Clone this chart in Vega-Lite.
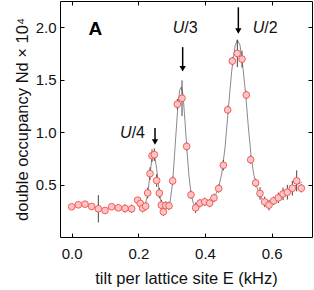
{
  "$schema": "https://vega.github.io/schema/vega-lite/v6.json",
  "autosize": "none",
  "width": 252,
  "height": 236,
  "padding": {"left": 60, "top": 1, "right": 2, "bottom": 53},
  "background": "white",
  "config": {
    "view": {"stroke": "black", "strokeWidth": 1},
    "font": "Liberation Sans",
    "axis": {
      "domain": false, "grid": false, "tickColor": "black", "tickSize": -4, "tickWidth": 1,
      "labelFont": "Liberation Sans", "labelFontSize": 15, "labelColor": "#111",
      "titleFont": "Liberation Sans", "titleFontSize": 16.5, "titleFontWeight": "normal", "titleColor": "#111"
    }
  },
  "datasets": {
    "pts": [
      {"x": 0.0, "y": 0.288, "lo": 0.268, "hi": 0.308},
      {"x": 0.02, "y": 0.307, "lo": 0.277, "hi": 0.337},
      {"x": 0.04, "y": 0.313, "lo": 0.293, "hi": 0.333},
      {"x": 0.06, "y": 0.291, "lo": 0.261, "hi": 0.321},
      {"x": 0.08, "y": 0.269, "lo": 0.139, "hi": 0.399},
      {"x": 0.10, "y": 0.253, "lo": 0.223, "hi": 0.283},
      {"x": 0.12, "y": 0.288, "lo": 0.258, "hi": 0.318},
      {"x": 0.14, "y": 0.278, "lo": 0.248, "hi": 0.308},
      {"x": 0.16, "y": 0.272, "lo": 0.232, "hi": 0.312},
      {"x": 0.18, "y": 0.269, "lo": 0.229, "hi": 0.309},
      {"x": 0.198, "y": 0.351, "lo": 0.321, "hi": 0.381},
      {"x": 0.206, "y": 0.32, "lo": 0.29, "hi": 0.35},
      {"x": 0.213, "y": 0.275, "lo": 0.235, "hi": 0.315},
      {"x": 0.222, "y": 0.294, "lo": 0.254, "hi": 0.334},
      {"x": 0.228, "y": 0.42, "lo": 0.37, "hi": 0.47},
      {"x": 0.235, "y": 0.604, "lo": 0.544, "hi": 0.664},
      {"x": 0.241, "y": 0.775, "lo": 0.715, "hi": 0.835},
      {"x": 0.248, "y": 0.785, "lo": 0.725, "hi": 0.845},
      {"x": 0.255, "y": 0.538, "lo": 0.478, "hi": 0.598},
      {"x": 0.263, "y": 0.418, "lo": 0.368, "hi": 0.468},
      {"x": 0.269, "y": 0.304, "lo": 0.254, "hi": 0.354},
      {"x": 0.275, "y": 0.24, "lo": 0.2, "hi": 0.28},
      {"x": 0.282, "y": 0.30, "lo": 0.26, "hi": 0.34},
      {"x": 0.292, "y": 0.297, "lo": 0.257, "hi": 0.337},
      {"x": 0.303, "y": 0.535, "lo": 0.495, "hi": 0.575},
      {"x": 0.317, "y": 1.266, "lo": 1.216, "hi": 1.316},
      {"x": 0.331, "y": 1.323, "lo": 1.153, "hi": 1.493},
      {"x": 0.345, "y": 0.864, "lo": 0.824, "hi": 0.904},
      {"x": 0.358, "y": 0.402, "lo": 0.362, "hi": 0.442},
      {"x": 0.372, "y": 0.278, "lo": 0.228, "hi": 0.328},
      {"x": 0.385, "y": 0.323, "lo": 0.283, "hi": 0.363},
      {"x": 0.399, "y": 0.335, "lo": 0.295, "hi": 0.375},
      {"x": 0.414, "y": 0.323, "lo": 0.283, "hi": 0.363},
      {"x": 0.427, "y": 0.373, "lo": 0.333, "hi": 0.413},
      {"x": 0.441, "y": 0.462, "lo": 0.422, "hi": 0.502},
      {"x": 0.455, "y": 0.684, "lo": 0.634, "hi": 0.734},
      {"x": 0.468, "y": 1.212, "lo": 1.172, "hi": 1.252},
      {"x": 0.482, "y": 1.677, "lo": 1.637, "hi": 1.717},
      {"x": 0.497, "y": 1.75, "lo": 1.62, "hi": 1.88},
      {"x": 0.511, "y": 1.696, "lo": 1.616, "hi": 1.776},
      {"x": 0.524, "y": 1.354, "lo": 1.314, "hi": 1.394},
      {"x": 0.537, "y": 0.737, "lo": 0.697, "hi": 0.777},
      {"x": 0.552, "y": 0.516, "lo": 0.476, "hi": 0.556},
      {"x": 0.565, "y": 0.415, "lo": 0.355, "hi": 0.475},
      {"x": 0.579, "y": 0.335, "lo": 0.285, "hi": 0.385},
      {"x": 0.592, "y": 0.304, "lo": 0.254, "hi": 0.354},
      {"x": 0.606, "y": 0.345, "lo": 0.305, "hi": 0.385},
      {"x": 0.62, "y": 0.373, "lo": 0.323, "hi": 0.423},
      {"x": 0.634, "y": 0.411, "lo": 0.351, "hi": 0.471},
      {"x": 0.647, "y": 0.427, "lo": 0.357, "hi": 0.497},
      {"x": 0.662, "y": 0.465, "lo": 0.395, "hi": 0.535},
      {"x": 0.675, "y": 0.535, "lo": 0.435, "hi": 0.635},
      {"x": 0.689, "y": 0.465, "lo": 0.425, "hi": 0.505}
    ],
    "fit": [
      {"x": 0.200, "y": 0.33}, {"x": 0.210, "y": 0.30}, {"x": 0.220, "y": 0.30},
      {"x": 0.228, "y": 0.40}, {"x": 0.235, "y": 0.60}, {"x": 0.242, "y": 0.78},
      {"x": 0.248, "y": 0.80}, {"x": 0.255, "y": 0.65}, {"x": 0.262, "y": 0.45},
      {"x": 0.270, "y": 0.31}, {"x": 0.278, "y": 0.27}, {"x": 0.286, "y": 0.28},
      {"x": 0.295, "y": 0.33}, {"x": 0.303, "y": 0.52}, {"x": 0.310, "y": 0.85},
      {"x": 0.318, "y": 1.22}, {"x": 0.324, "y": 1.40}, {"x": 0.329, "y": 1.43},
      {"x": 0.334, "y": 1.36}, {"x": 0.340, "y": 1.10}, {"x": 0.346, "y": 0.82},
      {"x": 0.352, "y": 0.58}, {"x": 0.358, "y": 0.42}, {"x": 0.365, "y": 0.32},
      {"x": 0.372, "y": 0.28}, {"x": 0.380, "y": 0.30}, {"x": 0.390, "y": 0.32},
      {"x": 0.400, "y": 0.33}, {"x": 0.410, "y": 0.33}, {"x": 0.420, "y": 0.35},
      {"x": 0.430, "y": 0.39}, {"x": 0.440, "y": 0.46}, {"x": 0.450, "y": 0.60},
      {"x": 0.460, "y": 0.85}, {"x": 0.470, "y": 1.22}, {"x": 0.480, "y": 1.58},
      {"x": 0.490, "y": 1.82}, {"x": 0.497, "y": 1.88}, {"x": 0.505, "y": 1.83},
      {"x": 0.513, "y": 1.64}, {"x": 0.522, "y": 1.36}, {"x": 0.530, "y": 1.05},
      {"x": 0.538, "y": 0.78}, {"x": 0.546, "y": 0.60}, {"x": 0.555, "y": 0.48},
      {"x": 0.565, "y": 0.40}, {"x": 0.575, "y": 0.34}, {"x": 0.585, "y": 0.31},
      {"x": 0.592, "y": 0.30}, {"x": 0.600, "y": 0.32}, {"x": 0.615, "y": 0.36},
      {"x": 0.630, "y": 0.40}, {"x": 0.645, "y": 0.43}, {"x": 0.660, "y": 0.46},
      {"x": 0.675, "y": 0.50}, {"x": 0.690, "y": 0.52}
    ],
    "arrows": [
      {"x": 0.25, "top": 1.04, "tip": 0.88, "head": 0.905},
      {"x": 0.333, "top": 1.81, "tip": 1.58, "head": 1.605},
      {"x": 0.50, "top": 2.19, "tip": 1.94, "head": 1.965}
    ],
    "labels": [
      {"x": 0.177, "y": 0.99, "u": "U", "rest": "/4"},
      {"x": 0.335, "y": 1.99, "u": "U", "rest": "/3"},
      {"x": 0.575, "y": 1.99, "u": "U", "rest": "/2"}
    ],
    "panel": [{"x": 0.071, "y": 1.98, "t": "A"}]
  },
  "resolve": {"axis": {"x": "independent", "y": "independent"}},
  "layer": [
    {
      "data": {"name": "fit"},
      "mark": {"type": "line", "color": "#8a8a8a", "strokeWidth": 1},
      "encoding": {
        "x": {"field": "x", "type": "quantitative", "scale": {"domain": [-0.035, 0.721], "nice": false, "zero": false},
              "axis": {"orient": "bottom", "values": [0, 0.2, 0.4, 0.6], "format": ".1f", "labelPadding": 13,
                       "title": "tilt per lattice site E (kHz)", "titlePadding": 9}},
        "y": {"field": "y", "type": "quantitative", "scale": {"domain": [0, 2.25], "nice": false},
              "axis": {"orient": "left", "values": [0.5, 1.0, 1.5, 2.0], "format": ".1f", "labelPadding": 8,
                       "title": "double occupancy Nd × 10⁴", "titlePadding": 5}}
      }
    },
    {
      "data": {"name": "pts"},
      "mark": {"type": "rule", "color": "#444", "strokeWidth": 1},
      "encoding": {
        "x": {"field": "x", "type": "quantitative",
              "axis": {"orient": "top", "values": [0, 0.2, 0.4, 0.6], "labels": false, "title": null}},
        "y": {"field": "lo", "type": "quantitative",
              "axis": {"orient": "right", "values": [0.5, 1.0, 1.5, 2.0], "labels": false, "title": null}},
        "y2": {"field": "hi"}
      }
    },
    {
      "data": {"name": "pts"},
      "mark": {"type": "point", "shape": "circle", "filled": true, "fill": "#ffc4c4", "stroke": "#f05050", "strokeWidth": 0.9, "opacity": 1, "size": 45},
      "encoding": {
        "x": {"field": "x", "type": "quantitative", "axis": null},
        "y": {"field": "y", "type": "quantitative", "axis": null}
      }
    },
    {
      "data": {"name": "arrows"},
      "mark": {"type": "rule", "color": "black", "strokeWidth": 1.5},
      "encoding": {
        "x": {"field": "x", "type": "quantitative", "axis": null},
        "y": {"field": "top", "type": "quantitative", "axis": null},
        "y2": {"field": "head"}
      }
    },
    {
      "data": {"name": "arrows"},
      "mark": {"type": "point", "shape": "triangle-down", "filled": true, "color": "black", "opacity": 1, "size": 40},
      "encoding": {
        "x": {"field": "x", "type": "quantitative", "axis": null},
        "y": {"field": "head", "type": "quantitative", "axis": null}
      }
    },
    {
      "data": {"name": "labels"},
      "mark": {"type": "text", "fontSize": 16, "fontStyle": "italic", "align": "right", "dx": 1, "color": "#111"},
      "encoding": {
        "x": {"field": "x", "type": "quantitative", "axis": null},
        "y": {"field": "y", "type": "quantitative", "axis": null},
        "text": {"field": "u"}
      }
    },
    {
      "data": {"name": "labels"},
      "mark": {"type": "text", "fontSize": 16, "align": "left", "dx": 1, "color": "#111"},
      "encoding": {
        "x": {"field": "x", "type": "quantitative", "axis": null},
        "y": {"field": "y", "type": "quantitative", "axis": null},
        "text": {"field": "rest"}
      }
    },
    {
      "data": {"name": "panel"},
      "mark": {"type": "text", "fontSize": 19, "fontWeight": "bold", "color": "black"},
      "encoding": {
        "x": {"field": "x", "type": "quantitative", "axis": null},
        "y": {"field": "y", "type": "quantitative", "axis": null},
        "text": {"field": "t"}
      }
    }
  ]
}
